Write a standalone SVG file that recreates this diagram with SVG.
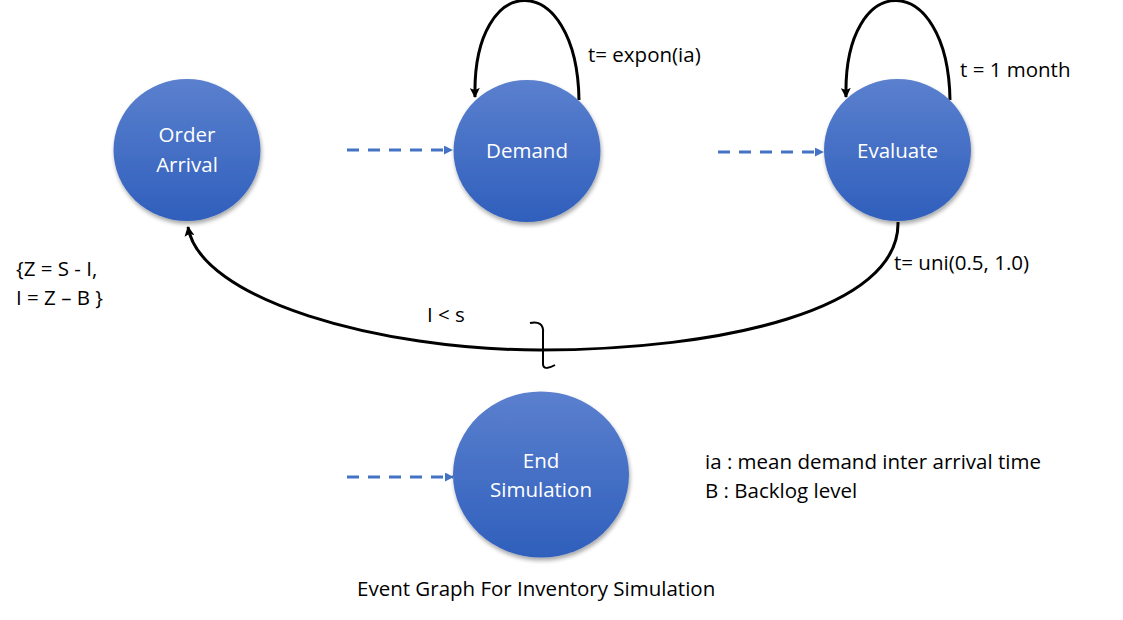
<svg xmlns="http://www.w3.org/2000/svg" width="1123" height="620" viewBox="0 0 1123 620">
<defs>
<linearGradient id="g" x1="0" y1="0" x2="0" y2="1">
<stop offset="0" stop-color="#5B80CE"/>
<stop offset="1" stop-color="#2F5FBC"/>
</linearGradient>
<filter id="sh" x="-20%" y="-20%" width="140%" height="140%">
<feGaussianBlur in="SourceAlpha" stdDeviation="2"/>
<feOffset dx="1" dy="3"/>
<feComponentTransfer><feFuncA type="linear" slope="0.35"/></feComponentTransfer>
<feMerge><feMergeNode/><feMergeNode in="SourceGraphic"/></feMerge>
</filter>
<marker id="ab" viewBox="0 0 10 10" refX="9" refY="5" markerWidth="10" markerHeight="10" markerUnits="userSpaceOnUse" orient="auto">
<path d="M0,0 L10,5 L0,10 L2,5 z" fill="#000"/>
</marker>
<marker id="ablue" viewBox="0 0 10 10" refX="9" refY="5" markerWidth="9" markerHeight="9" markerUnits="userSpaceOnUse" orient="auto">
<path d="M0,0 L10,5 L0,10 z" fill="#4472C4"/>
</marker>
</defs>
<style>
.node{fill:url(#g);filter:url(#sh)}
.nt{font-family:"Open Sans","Liberation Sans",sans-serif;font-size:20.5px;fill:#fff;text-anchor:middle}
.lbl{font-family:"Open Sans","Liberation Sans",sans-serif;font-size:20.5px;fill:#000}
.edge{fill:none;stroke:#000;stroke-width:3}
.dash{fill:none;stroke:#4472C4;stroke-width:3;stroke-dasharray:12 9}
</style>
<rect width="1123" height="620" fill="#fff"/>
<g id="connectors">
<path class="edge" d="M579,100 C577,-32 472,-32 475,97" marker-end="url(#ab)"/>
<path class="edge" d="M950,100 C948,-32 843,-32 846,97" marker-end="url(#ab)"/>
<path class="edge" d="M898,222 C900,310 720,350 540,350 C380,350 200,300 188,227" marker-end="url(#ab)"/>
<path fill="none" stroke="#000" stroke-width="2" d="M530,323 C538,321 544,324 543,333 L543,364 C543,369 548,369 555,365"/>
<line class="dash" x1="347" y1="150" x2="452" y2="150" marker-end="url(#ablue)"/>
<line class="dash" x1="718" y1="152" x2="823" y2="152" marker-end="url(#ablue)"/>
<line class="dash" x1="347" y1="477" x2="453" y2="477" marker-end="url(#ablue)"/>
</g>
<g id="order-arrival">
<ellipse class="node" cx="187" cy="150" rx="73.5" ry="71"/>
<text class="nt" x="187" y="142">Order</text>
<text class="nt" x="187" y="172">Arrival</text>
</g>
<g id="demand">
<ellipse class="node" cx="527" cy="151" rx="73.5" ry="71"/>
<text class="nt" x="527" y="158">Demand</text>
</g>
<g id="evaluate">
<ellipse class="node" cx="897.5" cy="150" rx="73.5" ry="71"/>
<text class="nt" x="897.5" y="158">Evaluate</text>
</g>
<g id="end-simulation">
<ellipse class="node" cx="541" cy="474.5" rx="88" ry="83"/>
<text class="nt" x="541" y="468">End</text>
<text class="nt" x="541" y="497">Simulation</text>
</g>
<g id="labels">
<text class="lbl" x="588" y="62">t= expon(ia)</text>
<text class="lbl" x="960" y="77">t = 1 month</text>
<text class="lbl" x="894" y="270">t= uni(0.5, 1.0)</text>
<text class="lbl" x="16" y="276">{Z = S - I,</text>
<text class="lbl" x="16" y="305">I = Z – B }</text>
<text class="lbl" x="427" y="322">I &lt; s</text>
<text class="lbl" x="705" y="469">ia : mean demand inter arrival time</text>
<text class="lbl" x="705" y="498">B : Backlog level</text>
<text class="lbl" x="357" y="596">Event Graph For Inventory Simulation</text>
</g>
</svg>
